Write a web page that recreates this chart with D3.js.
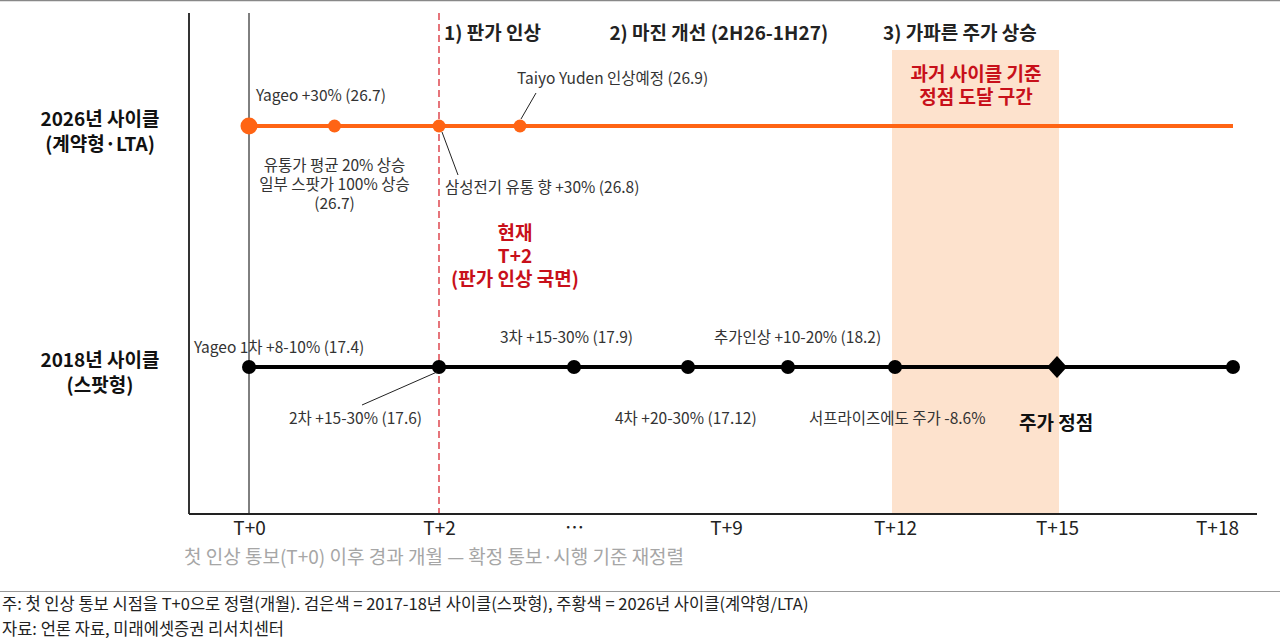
<!DOCTYPE html>
<html>
<head>
<meta charset="utf-8">
<script src="https://cdn.jsdelivr.net/npm/d3@7"></script>
<style>
  body { margin: 0; background: #fff; }
  svg { display: block; font-family: "Noto Sans CJK KR", "Noto Sans", sans-serif; }
</style>
</head>
<body>
<svg id="chart" width="1280" height="640"></svg>
<script>
// rows (cycles)
const cycles = ["2026", "2018"];
const cycleLabels = [["2026년 사이클", "(계약형·LTA)"], ["2018년 사이클", "(스팟형)"]];

// x axis: months after first price-hike notice
const tickMonths = [0, 2, 5, 9, 12, 15, 18];
const tickLabels = ["T+0", "T+2", "…", "T+9", "T+12", "T+15", "T+18"];

// 2026 cycle (contract / LTA)
const months2026 = [0, 0.9, 2, 3.8];
const labels2026 = [
  "Yageo +30% (26.7)",
  "유통가 평균 20% 상승|일부 스팟가 100% 상승|(26.7)",
  "삼성전기 유통 향 +30% (26.8)",
  "Taiyo Yuden 인상예정 (26.9)"
];
const end2026 = 18.3;

// 2018 cycle (spot)
const months2018 = [0, 2, 5, 8, 10.1, 12, 15, 18.3];
const labels2018 = [
  "Yageo 1차 +8-10% (17.4)",
  "2차 +15-30% (17.6)",
  "3차 +15-30% (17.9)",
  "4차 +20-30% (17.12)",
  "추가인상 +10-20% (18.2)",
  "서프라이즈에도 주가 -8.6%",
  "주가 정점",
  ""
];
const peakMonth = 15;

// phases and zones
const phaseLabels = ["1) 판가 인상", "2) 마진 개선 (2H26-1H27)", "3) 가파른 주가 상승"];
const phaseMonths = [2, 5.8, 11.7];
const currentMonth = 2;
const currentLabels = ["현재", "T+2", "(판가 인상 국면)"];
const peakZone = [12, 15];
const peakZoneLabels = ["과거 사이클 기준", "정점 도달 구간"];

const axisTitle = "첫 인상 통보(T+0) 이후 경과 개월 — 확정 통보·시행 기준 재정렬";
const notes = [
  "주: 첫 인상 통보 시점을 T+0으로 정렬(개월). 검은색 = 2017-18년 사이클(스팟형), 주황색 = 2026년 사이클(계약형/LTA)",
  "자료: 언론 자료, 미래에셋증권 리서치센터"
];

// ---- drawing ----
const svg = d3.select("#chart");
const ORANGE = "#FF6414", RED = "#C8101A", TEXT = "#333";
const plot = { left: 189, right: 1257, top: 13, bottom: 514 };

// piecewise month scale (the original axis is not evenly spaced)
const x = d3.scaleLinear()
  .domain(tickMonths)
  .range([249, 439, 574, 726, 895, 1057, 1217]);
const y = d3.scalePoint().domain(cycles).range([126, 367]);

// frame lines
svg.append("line").attr("x1", 0).attr("x2", 1280).attr("y1", 0.5).attr("y2", 0.5)
  .attr("stroke", "#888").attr("stroke-width", 1.5);
svg.append("line").attr("x1", 0).attr("x2", 1280).attr("y1", 591.5).attr("y2", 591.5)
  .attr("stroke", "#999").attr("stroke-width", 1);

// peak zone shade
svg.append("rect")
  .attr("x", x(peakZone[0]) - 3).attr("y", 50)
  .attr("width", x(peakZone[1]) - x(peakZone[0]) + 5)
  .attr("height", plot.bottom - 50)
  .attr("fill", "#FDE2CD");

svg.append("g").selectAll("text").data(peakZoneLabels).join("text")
  .attr("x", (x(peakZone[0]) + x(peakZone[1])) / 2)
  .attr("y", (d, i) => 81 + i * 23)
  .attr("text-anchor", "middle")
  .attr("font-size", 19).attr("font-weight", "bold").attr("fill", RED)
  .text(d => d);

// left axis, T+0 reference and current-month dashed line
svg.append("line").attr("x1", plot.left).attr("x2", plot.left)
  .attr("y1", plot.top).attr("y2", plot.bottom).attr("stroke", "#333").attr("stroke-width", 2);
svg.append("line").attr("x1", x(0)).attr("x2", x(0))
  .attr("y1", plot.top).attr("y2", plot.bottom).attr("stroke", "#000").attr("stroke-width", 1);
svg.append("line").attr("x1", x(currentMonth)).attr("x2", x(currentMonth))
  .attr("y1", plot.top).attr("y2", plot.bottom)
  .attr("stroke", "#D92B35").attr("stroke-width", 1.3).attr("stroke-dasharray", "7,4");

// bottom axis
svg.append("line").attr("x1", plot.left).attr("x2", plot.right)
  .attr("y1", plot.bottom).attr("y2", plot.bottom).attr("stroke", "#222").attr("stroke-width", 2);
const axis = svg.append("g")
  .attr("transform", `translate(0,${plot.bottom})`)
  .call(d3.axisBottom(x).tickValues(tickMonths).tickFormat((d, i) => tickLabels[i]).tickSize(0));
axis.select(".domain").remove();
axis.selectAll("text")
  .attr("dy", null).attr("y", 21)
  .attr("font-family", "\"Noto Sans CJK KR\", sans-serif")
  .attr("font-size", 19).attr("fill", "#222");

svg.append("text").attr("x", 184).attr("y", 564)
  .attr("font-size", 19).attr("fill", "#A6A6A6").text(axisTitle);

// phase headings
svg.append("g").selectAll("text").data(phaseLabels).join("text")
  .attr("x", (d, i) => x(phaseMonths[i]) + 5).attr("y", 40)
  .attr("font-size", 19).attr("font-weight", "bold").attr("fill", "#222")
  .text(d => d);

// row labels
cycleLabels.forEach((lines, r) => {
  svg.append("g").selectAll("text").data(lines).join("text")
    .attr("x", 100).attr("y", (d, i) => y(cycles[r]) + i * 25)
    .attr("text-anchor", "middle")
    .attr("font-size", 19).attr("font-weight", "bold").attr("fill", "#111")
    .text(d => d);
});

// current marker label
svg.append("g").selectAll("text").data(currentLabels).join("text")
  .attr("x", x(currentMonth) + 76).attr("y", (d, i) => 240 + i * 23)
  .attr("text-anchor", "middle")
  .attr("font-size", 19).attr("font-weight", "bold").attr("fill", RED)
  .text(d => d);

// ---- 2026 row ----
const y26 = y("2026");
svg.append("line").attr("x1", x(0)).attr("x2", x(end2026))
  .attr("y1", y26).attr("y2", y26).attr("stroke", ORANGE).attr("stroke-width", 4);
svg.append("g").selectAll("circle").data(months2026).join("circle")
  .attr("cx", d => x(d)).attr("cy", y26)
  .attr("r", (d, i) => i === 0 ? 8.5 : 6.5)
  .attr("fill", ORANGE);

// leader lines for 2026 notes
svg.append("line").attr("x1", x(months2026[2]) + 3).attr("y1", y26 + 6)
  .attr("x2", x(months2026[2]) + 19).attr("y2", y26 + 49).attr("stroke", "#222").attr("stroke-width", 1);
svg.append("line").attr("x1", x(months2026[3]) + 16).attr("y1", y26 - 33)
  .attr("x2", x(months2026[3]) + 1).attr("y2", y26 - 7).attr("stroke", "#222").attr("stroke-width", 1);

// placement of each 2026 note: [dx, dy, anchor]
const place2026 = [[7, -25, "start"], [0, 45, "middle"], [6, 67, "start"], [-3, -42, "start"]];
labels2026.forEach((lab, i) => {
  const [dx, dy, anchor] = place2026[i];
  svg.append("g").selectAll("text").data(lab.split("|")).join("text")
    .attr("x", x(months2026[i]) + dx).attr("y", (d, k) => y26 + dy + k * 19)
    .attr("text-anchor", anchor)
    .attr("font-size", 15.5).attr("fill", TEXT)
    .text(d => d);
});

// ---- 2018 row ----
const y18 = y("2018");
svg.append("line").attr("x1", x(0)).attr("x2", x(d3.max(months2018)))
  .attr("y1", y18).attr("y2", y18).attr("stroke", "#000").attr("stroke-width", 4);
svg.append("g").selectAll("circle").data(months2018.filter(m => m !== peakMonth)).join("circle")
  .attr("cx", d => x(d)).attr("cy", y18).attr("r", 7).attr("fill", "#000");
svg.append("path")
  .attr("d", "M0,-11L10,0L0,11L-10,0Z")
  .attr("transform", `translate(${x(peakMonth)},${y18})`)
  .attr("fill", "#000");

// leader for 2차
svg.append("line").attr("x1", x(months2018[1]) - 2).attr("y1", y18 + 5)
  .attr("x2", x(months2018[1]) - 77).attr("y2", y18 + 38).attr("stroke", "#222").attr("stroke-width", 1);

// placement of each 2018 note: [dx, dy]
const place2018 = [[-55, -14], [-150, 57], [-74, -24], [-73, 57], [-74, -24], [-86, 57], [-38, 63], [0, 0]];
labels2018.forEach((lab, i) => {
  if (!lab) return;
  const [dx, dy] = place2018[i];
  const bold = months2018[i] === peakMonth;
  svg.append("text")
    .attr("x", x(months2018[i]) + dx).attr("y", y18 + dy)
    .attr("font-size", bold ? 19 : 15.5)
    .attr("font-weight", bold ? "bold" : "normal")
    .attr("fill", bold ? "#111" : TEXT)
    .text(lab);
});

// footnotes
svg.append("g").selectAll("text").data(notes).join("text")
  .attr("x", 2).attr("y", (d, i) => 610 + i * 25)
  .attr("font-size", 16.5).attr("fill", "#222")
  .text(d => d);
</script>
</body>
</html>
